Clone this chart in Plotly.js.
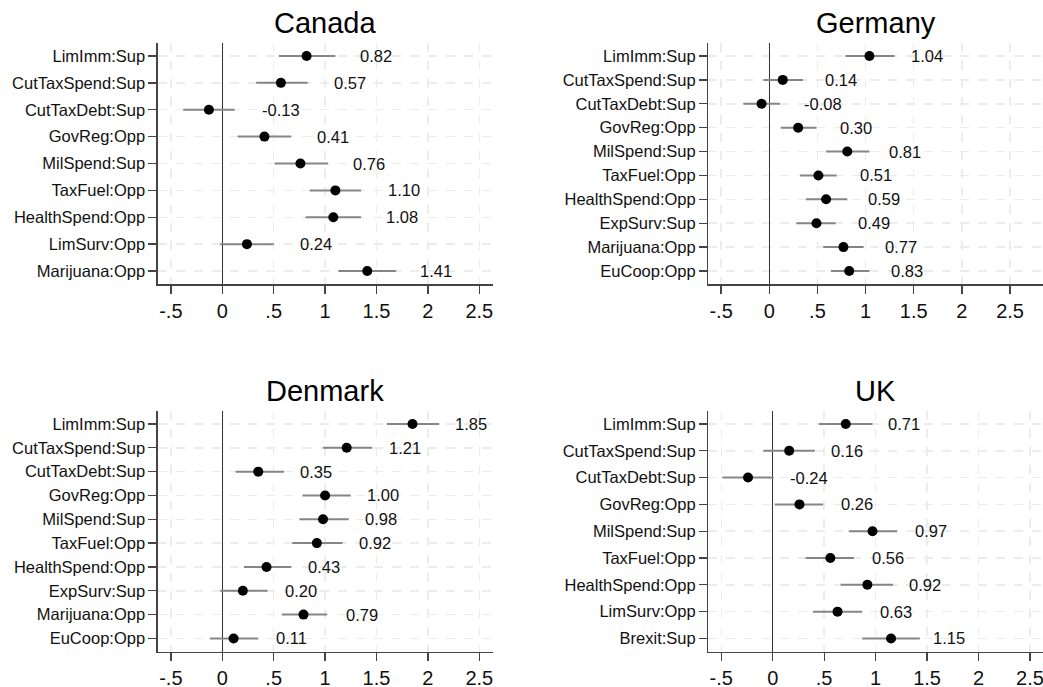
<!DOCTYPE html>
<html>
<head>
<meta charset="utf-8">
<script src="https://cdn.plot.ly/plotly-3.0.1.min.js"></script>
<style>html,body{margin:0;padding:0;background:#fff}</style>
</head>
<body>
<div id="chart" style="width:1043px;height:687px"></div>
<script>
// Coefficient estimates with 95% confidence bounds, by country
const canadaItems = ["LimImm:Sup","CutTaxSpend:Sup","CutTaxDebt:Sup","GovReg:Opp","MilSpend:Sup","TaxFuel:Opp","HealthSpend:Opp","LimSurv:Opp","Marijuana:Opp"];
const canadaEst = [0.82, 0.57, -0.13, 0.41, 0.76, 1.10, 1.08, 0.24, 1.41];
const canadaLo  = [0.55, 0.33, -0.38, 0.15, 0.51, 0.85, 0.81, -0.02, 1.13];
const canadaHi  = [1.10, 0.83, 0.12, 0.67, 1.03, 1.35, 1.35, 0.50, 1.69];

const germanyItems = ["LimImm:Sup","CutTaxSpend:Sup","CutTaxDebt:Sup","GovReg:Opp","MilSpend:Sup","TaxFuel:Opp","HealthSpend:Opp","ExpSurv:Sup","Marijuana:Opp","EuCoop:Opp"];
const germanyEst = [1.04, 0.14, -0.08, 0.30, 0.81, 0.51, 0.59, 0.49, 0.77, 0.83];
const germanyLo  = [0.79, -0.06, -0.27, 0.12, 0.59, 0.32, 0.38, 0.28, 0.56, 0.64];
const germanyHi  = [1.30, 0.35, 0.11, 0.49, 1.04, 0.70, 0.81, 0.69, 0.98, 1.04];

const denmarkItems = ["LimImm:Sup","CutTaxSpend:Sup","CutTaxDebt:Sup","GovReg:Opp","MilSpend:Sup","TaxFuel:Opp","HealthSpend:Opp","ExpSurv:Sup","Marijuana:Opp","EuCoop:Opp"];
const denmarkEst = [1.85, 1.21, 0.35, 1.00, 0.98, 0.92, 0.43, 0.20, 0.79, 0.11];
const denmarkLo  = [1.60, 0.98, 0.13, 0.78, 0.75, 0.68, 0.21, -0.02, 0.58, -0.12];
const denmarkHi  = [2.11, 1.46, 0.60, 1.25, 1.23, 1.17, 0.67, 0.44, 1.02, 0.35];

const ukItems = ["LimImm:Sup","CutTaxSpend:Sup","CutTaxDebt:Sup","GovReg:Opp","MilSpend:Sup","TaxFuel:Opp","HealthSpend:Opp","LimSurv:Opp","Brexit:Sup"];
const ukEst = [0.71, 0.16, -0.24, 0.26, 0.97, 0.56, 0.92, 0.63, 1.15];
const ukLo  = [0.45, -0.09, -0.49, 0.02, 0.74, 0.32, 0.66, 0.39, 0.87];
const ukHi  = [0.97, 0.41, 0.01, 0.49, 1.21, 0.79, 1.17, 0.87, 1.43];

const xTickVals = [-0.5, 0, 0.5, 1, 1.5, 2, 2.5];
const xTickText = ["-.5", "0", ".5", "1", "1.5", "2", "2.5"];

const W = 1043, H = 687;
const FONT = "Liberation Sans, Arial, Helvetica, sans-serif";

// Panel geometry in pixels (left, right, top, bottom of plot area)
const panels = [
  {title: "Canada",  items: canadaItems,  est: canadaEst,  lo: canadaLo,  hi: canadaHi,
   box: [157.7, 492.7, 42.7, 284.3], xr: [-0.628, 2.63], pad: 0.494, shift: 51, titleY: 23},
  {title: "Germany", items: germanyItems, est: germanyEst, lo: germanyLo, hi: germanyHi,
   box: [708.3, 1043, 42.7, 284.3], xr: [-0.633, 2.842], pad: 0.557, shift: 40, titleY: 23},
  {title: "Denmark", items: denmarkItems, est: denmarkEst, lo: denmarkLo, hi: denmarkHi,
   box: [157.7, 492.7, 410.7, 651.7], xr: [-0.628, 2.63], pad: 0.557, shift: 40, titleY: 391},
  {title: "UK",      items: ukItems,      est: ukEst,      lo: ukLo,      hi: ukHi,
   box: [708.3, 1043, 410.7, 651.7], xr: [-0.626, 2.627], pad: 0.494, shift: 40, titleY: 391}
];

const data = [];
const layout = {
  width: W, height: H,
  margin: {l: 0, r: 0, t: 0, b: 0},
  paper_bgcolor: "#fff", plot_bgcolor: "#fff",
  showlegend: false,
  font: {family: FONT, color: "#111"},
  annotations: []
};

panels.forEach((p, i) => {
  const n = i === 0 ? "" : String(i + 1);
  const xa = "x" + n, ya = "y" + n;
  const [l, r, t, b] = p.box;

  data.push({
    type: "scatter", mode: "markers",
    x: p.est, y: p.items, xaxis: xa, yaxis: ya,
    marker: {color: "#000", size: 10},
    error_x: {
      type: "data", symmetric: false,
      array: p.est.map((v, k) => p.hi[k] - v),
      arrayminus: p.est.map((v, k) => v - p.lo[k]),
      color: "#858585", thickness: 2, width: 0
    },
    hoverinfo: "x+y"
  });

  layout["xaxis" + n] = {
    domain: [l / W, r / W], anchor: ya, range: p.xr,
    tickmode: "array", tickvals: xTickVals, ticktext: xTickText,
    ticks: "outside", ticklen: 8, tickwidth: 1.3, tickcolor: "#444",
    ticklabeloverflow: "allow",
    showline: true, linecolor: "#444", linewidth: 1.3,
    showgrid: true, gridcolor: "#ececec", gridwidth: 1.5, griddash: "dash",
    zeroline: true, zerolinecolor: "#333", zerolinewidth: 1.3,
    tickfont: {size: 20, color: "#111", family: FONT},
    fixedrange: true
  };
  layout["yaxis" + n] = {
    domain: [1 - b / H, 1 - t / H], anchor: xa,
    type: "category", categoryorder: "array", categoryarray: p.items,
    range: [p.items.length - 1 + p.pad, -p.pad],
    ticks: "outside", ticklen: 8, tickwidth: 1.3, tickcolor: "#444",
    showline: true, linecolor: "#444", linewidth: 1.3,
    showgrid: true, gridcolor: "#ececec", gridwidth: 1.5, griddash: "dash",
    zeroline: false,
    tickfont: {size: 16.5, color: "#111", family: FONT},
    fixedrange: true
  };

  // Panel heading
  layout.annotations.push({
    xref: "paper", yref: "paper",
    x: (l + r) / 2 / W, y: 1 - p.titleY / H,
    xanchor: "center", yanchor: "middle",
    text: p.title, showarrow: false,
    font: {size: 29, color: "#000", family: FONT}
  });

  // Estimate labels beside each point
  p.est.forEach((v, k) => {
    layout.annotations.push({
      xref: xa, yref: ya, x: v, y: p.items[k],
      xanchor: "left", yanchor: "middle", xshift: p.shift,
      text: v.toFixed(2), showarrow: false,
      font: {size: 16.5, color: "#111", family: FONT}
    });
  });
});

Plotly.newPlot("chart", data, layout, {displayModeBar: false, staticPlot: true});
</script>
</body>
</html>
